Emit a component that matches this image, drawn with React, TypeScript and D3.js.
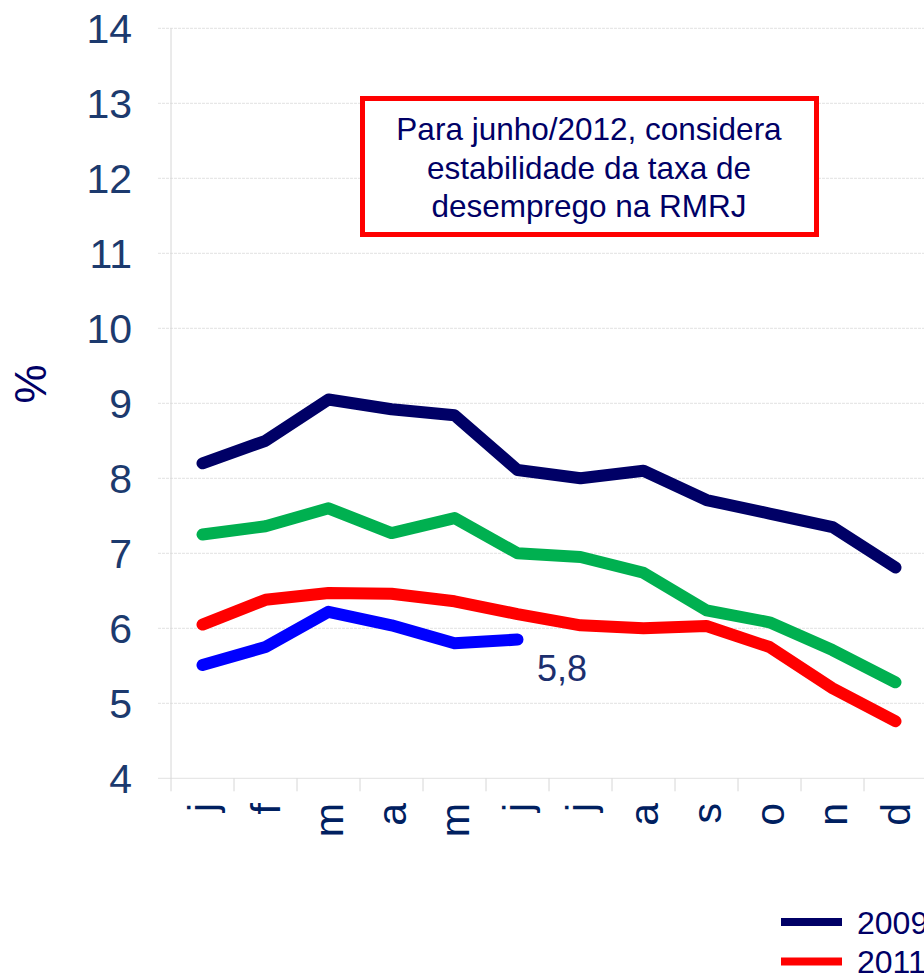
import React from "react";
import * as d3 from "d3";

const months = ["j", "f", "m", "a", "m", "j", "j", "a", "s", "o", "n", "d"];
const yTicks = [4, 5, 6, 7, 8, 9, 10, 11, 12, 13, 14];
const s2009 = [8.2, 8.5, 9.05, 8.92, 8.84, 8.11, 8.0, 8.1, 7.71, 7.53, 7.35, 6.81];
const s2010 = [7.25, 7.36, 7.6, 7.27, 7.47, 7.0, 6.95, 6.74, 6.24, 6.08, 5.71, 5.28];
const s2011 = [6.05, 6.38, 6.47, 6.46, 6.36, 6.19, 6.04, 6.0, 6.03, 5.75, 5.2, 4.76];
const s2012 = [5.51, 5.75, 6.22, 6.04, 5.8, 5.85];
const seriesNames = ["2009", "2010", "2011", "2012"];
const seriesColors = ["#000066", "#00b050", "#ff0000", "#0000ff"];
const legendItems = [
  { name: "2009", color: "#000066" },
  { name: "2011", color: "#ff0000" },
];
const noteLines = ["Para junho/2012, considera", "estabilidade da taxa de", "desemprego na RMRJ"];
const lastLabel = "5,8";

export default function App() {
  const W = 924, H = 976;
  const left = 171, right = 927, top = 28.3, bottom = 778.3;
  const x = d3.scaleBand<number>().domain(d3.range(12)).range([left, right]);
  const y = d3.scaleLinear().domain([4, 14]).range([bottom, top]);
  const cx = (i: number) => (x(i) as number) + x.bandwidth() / 2;
  const line = d3.line<number>().x((_, i) => cx(i)).y((v) => y(v));
  const all = [s2009, s2010, s2011, s2012];
  const font = "Arial, 'Liberation Sans', sans-serif";
  const tickColor = "#1c3a6e";
  return (
    <svg width={W} height={H} style={{ position: "absolute", left: 0, top: 0 }} fontFamily={font}>
      <rect width={W} height={H} fill="#fff" />
      {yTicks.map((t) => (
        <g key={t}>
          <line x1={158} x2={right} y1={y(t)} y2={y(t)} stroke="#e2e2e2" strokeWidth={1} strokeDasharray={t === 4 ? undefined : "3,1"} />
          <text x={132} y={y(t)} dy="0.35em" textAnchor="end" fontSize={41} fill={tickColor}>{t}</text>
        </g>
      ))}
      <line x1={left} x2={left} y1={top} y2={bottom} stroke="#d6d6d6" strokeWidth={1} />
      {d3.range(13).map((i) => {
        const xx = i < 12 ? (x(i) as number) : right;
        return <line key={i} x1={xx} x2={xx} y1={bottom} y2={bottom + 13} stroke="#d6d6d6" strokeWidth={1} />;
      })}
      {months.map((m, i) => (
        <text key={i} transform={`translate(${cx(i) + 14},${803}) rotate(-90)`} textAnchor="end" fontSize={41} fill="#002060">{m}</text>
      ))}
      <text transform="translate(46,384) rotate(-90)" textAnchor="middle" fontSize={44} fill="#000066">%</text>
      {all.map((s, k) => (
        <path key={seriesNames[k]} d={line(s) || ""} fill="none" stroke={seriesColors[k]} strokeWidth={12} strokeLinecap="round" strokeLinejoin="round" />
      ))}
      <text x={537} y={681} fontSize={36} fill="#1c2f6e">{lastLabel}</text>
      <rect x={362.5} y={98.5} width={454} height={136} fill="#fff" stroke="#ff0000" strokeWidth={5} />
      {noteLines.map((l, i) => (
        <text key={i} x={589} y={140 + i * 38.5} textAnchor="middle" fontSize={31.5} fill="#000066">{l}</text>
      ))}
      {legendItems.map((it, i) => (
        <g key={it.name}>
          <line x1={781} x2={842} y1={922 + i * 39.5} y2={922 + i * 39.5} stroke={it.color} strokeWidth={8} />
          <text x={857} y={922 + i * 39.5} dy="0.36em" fontSize={32} fill="#000066">{it.name}</text>
        </g>
      ))}
    </svg>
  );
}
